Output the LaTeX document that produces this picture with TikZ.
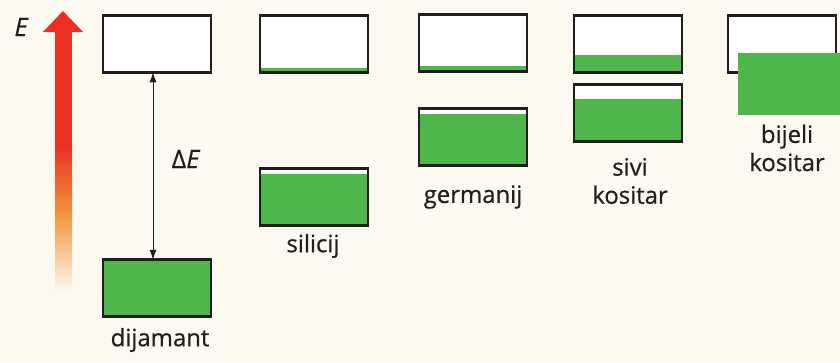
\documentclass[tikz,border=0pt]{standalone}
\usepackage{fontspec}
\setmainfont{Open Sans}[FakeBold=0.6]
\usetikzlibrary{calc,arrows.meta}

\definecolor{paper}{RGB}{252,250,240}
\definecolor{bandgreen}{RGB}{78,182,74}
\definecolor{arrowred}{RGB}{234,46,36}
\definecolor{arroworange}{RGB}{240,150,60}
\definecolor{ink}{RGB}{35,30,30}

\begin{document}
\begin{tikzpicture}[x=0.025cm, y=-0.025cm,
  band/.style={draw=ink, line width=1.9pt, fill=white, outer sep=0pt, inner sep=0pt,
    minimum width=2.7cm, minimum height=1.42cm},
  lbl/.style={font=\fontsize{17}{20}\selectfont, text=ink, align=center}]

% ── Paper ──
\fill[paper] (0,0) rectangle (840,362);
\useasboundingbox (0,0) rectangle (840,362);

% ── Energy axis ──
\fill[arrowred] (43,32) -- (63,11) -- (83,32) -- cycle;
\fill[arrowred] (55,31) rectangle (72,145);
\shade[top color=arrowred, bottom color=arroworange] (55,144) rectangle (72,215);
\shade[top color=arroworange, bottom color=paper] (55,214) rectangle (72,292);
\node[lbl, font=\fontsize{18}{20}\selectfont\itshape] (e-lbl) at (21,27) {E};

% Green level inside a box: #1=node, #2=height (px) from the bottom
\newcommand{\lvl}[2]{
  \fill[bandgreen] (#1.south west) rectangle ($(#1.south east)+(0,-#2)$);
  \draw[ink, line width=1.9pt] (#1.south west) rectangle (#1.north east);
}

% ── Boxes ──
\foreach \n/\x/\y in {dia-cb/157/44, dia-vb/157/288, si-cb/314/44, si-vb/314/197,
                      ge-cb/473/43, ge-vb/473/137, sn-cb/628/44, sn-vb/628/113, wt-cb/782/44} {
  \node[band] (\n) at (\x,\y) {};
}

\lvl{dia-vb}{58}
\lvl{si-cb}{4}
\lvl{si-vb}{51}
\lvl{ge-cb}{5}
\lvl{ge-vb}{51}
\lvl{sn-cb}{17}
\lvl{sn-vb}{42}

% overlapping band (white tin)
\node[fill=bandgreen, inner sep=0pt, minimum width=2.55cm, minimum height=1.55cm] (wt-vb) at (789,84) {};

% ── Gap ──
\draw[ink, line width=0.6pt, {Latex[length=7pt,width=5pt]}-{Latex[length=7pt,width=5pt]}]
  ([xshift=-0.1cm]dia-cb.south) -- ([xshift=-0.1cm]dia-vb.north);
\node[lbl, font=\fontsize{18}{20}\selectfont] (gap-lbl) at (186,159) {Δ\textit{E}};

% ── Labels ──
\node[lbl] (dia-lbl) at (160,340) {dijamant};
\node[lbl] (si-lbl) at (313,246) {silicij};
\node[lbl] (ge-lbl) at (473,197) {germanij};
\node[lbl] (sn-lbl) at (630,181) {sivi\\kositar};
\node[lbl] (wt-lbl) at (787,148) {bijeli\\kositar};

\end{tikzpicture}
\end{document}
